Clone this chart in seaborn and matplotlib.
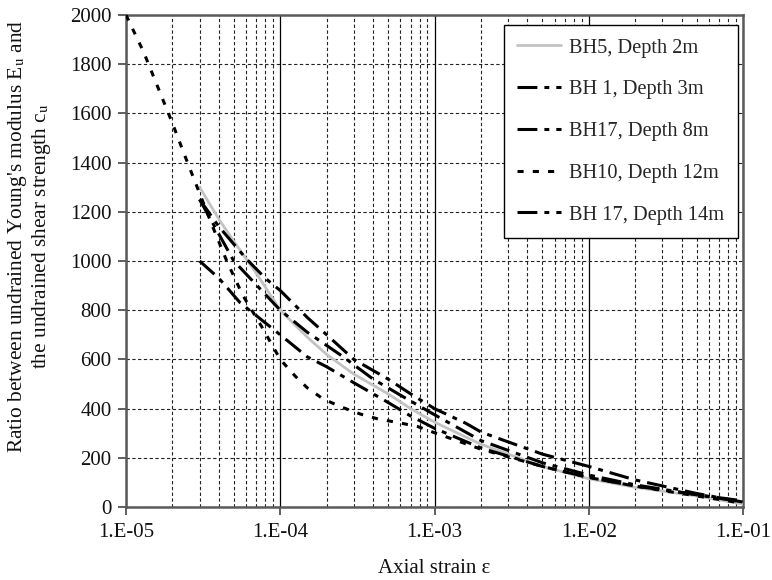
import numpy as np
import pandas as pd
import matplotlib
matplotlib.use("Agg")
import matplotlib.pyplot as plt
import seaborn as sns
from matplotlib.ticker import LogLocator, FuncFormatter, NullFormatter, FixedLocator

# ---------------- data ----------------
bh5_x = [3e-5, 4e-5, 5e-5, 7e-5, 1e-4, 1.5e-4, 2e-4, 3e-4, 5e-4, 7e-4, 1e-3,
         2e-3, 5e-3, 1e-2, 2e-2, 5e-2, 1e-1]
bh5_y = [1300, 1170, 1080, 950, 800, 690, 620, 540, 460, 400, 345,
         255, 165, 115, 80, 45, 12]

bh1_x = [3e-5, 4e-5, 5.5e-5, 1e-4, 1.5e-4, 2e-4, 3e-4, 4e-4, 5e-4, 7e-4, 1e-3,
         2e-3, 5e-3, 1e-2, 2e-2, 5e-2, 1e-1]
bh1_y = [1000, 930, 830, 700, 610, 570, 505, 460, 425, 370, 320,
         240, 165, 120, 85, 50, 20]

bh17_8_x = [3e-5, 5e-5, 1e-4, 1.5e-4, 2.5e-4, 4e-4, 6e-4, 1e-3,
            2e-3, 5e-3, 1e-2, 2e-2, 5e-2, 1e-1]
bh17_8_y = [1250, 1000, 800, 710, 615, 520, 455, 375,
            270, 180, 130, 90, 50, 25]

bh10_x = [1e-5, 1.3e-5, 1.6e-5, 2e-5, 2.4e-5, 3e-5, 3.7e-5, 4.5e-5, 5.7e-5,
          7.6e-5, 1e-4, 1.25e-4, 1.5e-4, 1.9e-4, 2.5e-4, 3.3e-4, 4.3e-4,
          5.7e-4, 7.7e-4, 1e-3, 2e-3, 5e-3, 1e-2, 2e-2, 5e-2, 1e-1]
bh10_y = [2000, 1850, 1710, 1560, 1430, 1275, 1130, 1000, 862,
          732, 600, 532, 484, 439, 406, 378, 358,
          344, 328, 302, 235, 165, 120, 85, 45, 15]

bh17_14_x = [3e-5, 4e-5, 6e-5, 8e-5, 1e-4, 1.5e-4, 2e-4, 3e-4, 5e-4, 7e-4,
             1e-3, 1.6e-3, 2e-3, 2.7e-3, 5e-3, 1e-2, 2e-2, 5e-2, 1e-1]
bh17_14_y = [1250, 1140, 1010, 930, 880, 770, 700, 600, 520, 460,
             400, 340, 305, 275, 215, 165, 110, 55, 20]

labels = ["BH5, Depth 2m", "BH 1, Depth 3m", "BH17, Depth 8m",
          "BH10, Depth 12m", "BH 17, Depth 14m"]
x_ticks = [1e-5, 1e-4, 1e-3, 1e-2, 1e-1]
y_ticks = [0, 200, 400, 600, 800, 1000, 1200, 1400, 1600, 1800, 2000]

# ---------------- style ----------------
sns.set_theme(style="ticks")
plt.rcParams["font.family"] = ["Liberation Serif", "DejaVu Serif"]
plt.rcParams["mathtext.fontset"] = "stix"

fig = plt.figure(figsize=(7.72, 5.8), dpi=100)
ax = fig.add_axes([126 / 772, 1 - 507 / 580, (743 - 126) / 772, (507 - 15) / 580])

dashdot = (0, (6.5, 2.3, 1.6, 2.3))
dotted = (0, (2.0, 3.0))
series = [
    (labels[0], bh5_x, bh5_y, "#c3c3c3", "-", 2.0),
    (labels[1], bh1_x, bh1_y, "black", dashdot, 2.2),
    (labels[2], bh17_8_x, bh17_8_y, "black", dashdot, 2.2),
    (labels[3], bh10_x, bh10_y, "black", dotted, 2.2),
    (labels[4], bh17_14_x, bh17_14_y, "black", dashdot, 2.2),
]
for lab, xs, ys, col, ls, lw in series:
    sns.lineplot(x=xs, y=ys, ax=ax, color=col, linestyle=ls, linewidth=lw,
                 label=lab, estimator=None, sort=False, zorder=3)

ax.set_xscale("log")
ax.set_xlim(1e-5, 1e-1)
ax.set_ylim(0, 2000)
ax.xaxis.set_major_locator(FixedLocator(x_ticks))
ax.xaxis.set_minor_locator(LogLocator(base=10, subs=range(2, 10), numticks=20))
ax.xaxis.set_minor_formatter(NullFormatter())
ax.xaxis.set_major_formatter(FuncFormatter(lambda v, p: f"1.E{int(round(np.log10(v))):03d}"))
ax.yaxis.set_major_locator(FixedLocator(y_ticks))

# grid
ax.grid(which="major", axis="x", linestyle="-", color="black", linewidth=0.9, zorder=1)
ax.grid(which="minor", axis="x", linestyle=(0, (3, 2.2)), color="#222222", linewidth=0.8, zorder=1)
ax.grid(which="major", axis="y", linestyle=(0, (3, 2.2)), color="#222222", linewidth=0.8, zorder=1)
ax.set_axisbelow(True)

for s in ax.spines.values():
    s.set_color("#5a5a5a")
    s.set_linewidth(1.8)

ax.tick_params(axis="both", which="major", direction="out", length=5.5, width=1.2,
               color="#444444", labelsize=15, pad=5, labelcolor="#111111")
ax.tick_params(axis="x", which="minor", length=0)
ax.tick_params(axis="x", which="major", pad=6)

ax.set_xlabel("Axial strain ε", fontsize=15, color="#111111", labelpad=12)
ax.set_ylabel("Ratio between undrained Young's modulus E$_{\\rm u}$ and\n"
              "the undrained shear strength c$_{\\rm u}$",
              fontsize=15.4, color="#111111", linespacing=1.05)
ax.yaxis.set_label_coords(-0.118, 0.551)

leg = ax.legend(loc="upper right", bbox_to_anchor=(0.992, 0.98), borderaxespad=0,
                fontsize=14.7, frameon=True, fancybox=False, shadow=False,
                handlelength=2.15, handletextpad=0.4, labelspacing=1.1,
                borderpad=0.66)
leg.get_frame().set_edgecolor("black")
leg.get_frame().set_linewidth(1.0)
leg.get_frame().set_facecolor("white")
leg.get_frame().set_alpha(1.0)
leg.set_zorder(5)

fig.savefig("out.png", dpi=100)
